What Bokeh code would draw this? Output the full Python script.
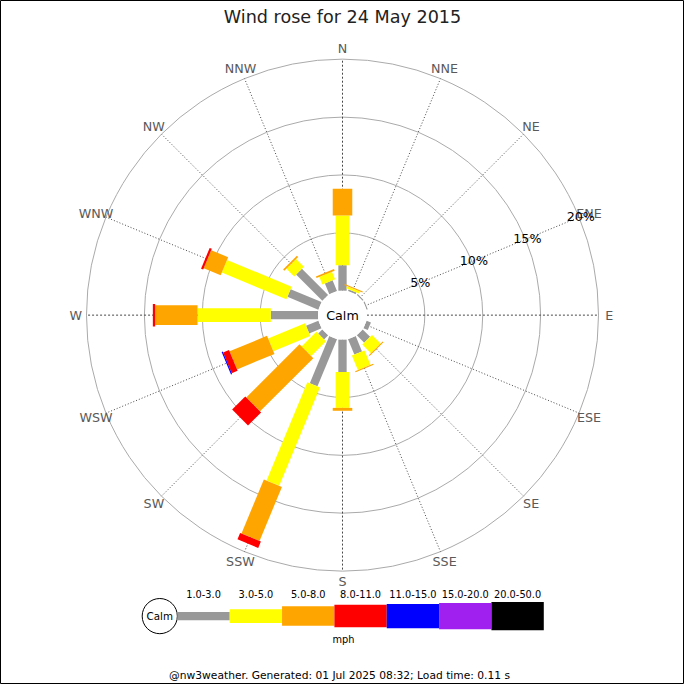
import numpy as np
from bokeh.plotting import figure
from bokeh.models import Range1d
from bokeh.embed import file_html
from bokeh.resources import INLINE
from bokeh.core.properties import value

# ---------------- data ----------------
directions = ["N", "NNE", "NE", "ENE", "E", "ESE", "SE", "SSE",
              "S", "SSW", "SW", "WSW", "W", "WNW", "NW", "NNW"]
speed_bins = ["1.0-3.0", "3.0-5.0", "5.0-8.0", "8.0-11.0",
              "11.0-15.0", "15.0-20.0", "20.0-50.0"]
bin_colors = ["#999999", "#ffff00", "#ffa500", "#ff0000",
              "#0000ff", "#a020f0", "#000000"]

# percent of time per direction for each speed bin (mph)
pct_1_3 = [2.2, 0.15, 0.1, 0.1, 0.0, 0.4, 0.9, 1.43, 2.8, 4.4, 0.5, 1.15, 4.08, 2.89, 3.2, 1.0]
pct_3_5 = [4.3, 0.2, 0.0, 0.0, 0.0, 0.0, 1.05, 1.35, 3.1, 9.2, 1.8, 3.45, 6.33, 6.04, 0.95, 0.7]
pct_5_8 = [2.3, 0.1, 0.0, 0.0, 0.0, 0.0, 0.1, 0.1, 0.25, 5.05, 6.5, 3.5, 3.66, 1.58, 0.15, 0.15]
pct_8_11 = [0.0, 0.0, 0.0, 0.0, 0.0, 0.0, 0.0, 0.0, 0.0, 0.6, 1.6, 0.55, 0.2, 0.2, 0.0, 0.0]
pct_11_15 = [0.0, 0.0, 0.0, 0.0, 0.0, 0.0, 0.0, 0.0, 0.0, 0.0, 0.0, 0.1, 0.0, 0.0, 0.0, 0.0]
pct_15_20 = [0.0] * 16
pct_20_50 = [0.0] * 16

ring_pcts = [5, 10, 15, 20]
ring_labels = ["5%", "10%", "15%", "20%"]

title_text = "Wind rose for 24 May 2015"
calm_text = "Calm"
units_text = "mph"
footer_text = "@nw3weather. Generated: 01 Jul 2025 08:32; Load time: 0.11 s"

# ---------------- styling / geometry ----------------
W = H = 684
S = W / 700.0          # reference px -> screen px
FONT = value("DejaVu Sans")

CX, CY = 350.0, 378.0  # rose centre (data units, y up)
R0 = 25.0              # calm circle radius
K = 11.85              # data units per percent
R_MAX_PCT = 20
thick = [8.5, 14, 20, 23, 25, 27, 29]


def rad(p):
    return R0 + K * np.asarray(p, dtype=float)


p = figure(width=W, height=H, output_backend="svg", toolbar_location=None,
           x_range=Range1d(0, 700), y_range=Range1d(0, 700),
           x_axis_location=None, y_axis_location=None, min_border=0)
p.grid.visible = False
p.outline_line_color = "black"
p.outline_line_width = 1
p.background_fill_color = "white"
p.border_fill_color = "white"

theta = np.deg2rad(np.arange(16) * 22.5)
sx, cy_ = np.sin(theta), np.cos(theta)

# rings
p.circle(x=[CX] * len(ring_pcts), y=[CY] * len(ring_pcts), radius=list(rad(ring_pcts)),
         fill_color=None, line_color="#aaaaaa", line_width=1)

# spokes
r_out = rad(R_MAX_PCT)
main = [i for i in range(16) if i % 4 == 0]
minor = [i for i in range(16) if i % 4 != 0]
for idx, dash in ((main, "2 2"), (minor, "1 2")):
    p.segment(x0=list(CX + R0 * sx[idx]), y0=list(CY + R0 * cy_[idx]),
              x1=list(CX + r_out * sx[idx]), y1=list(CY + r_out * cy_[idx]),
              line_color="#333333", line_width=0.9, line_dash=dash)

# bars
series = [pct_1_3, pct_3_5, pct_5_8, pct_8_11, pct_11_15, pct_15_20, pct_20_50]
cum = np.zeros(16)
for b, vals in enumerate(series):
    v = np.asarray(vals, dtype=float)
    m = v > 0
    r_in = rad(cum)
    r_o = rad(cum + v)
    rc = (r_in + r_o) / 2
    if m.any():
        p.rect(x=list((CX + rc * sx)[m]), y=list((CY + rc * cy_)[m]),
               width=list((r_o - r_in)[m]), height=thick[b],
               angle=list((np.pi / 2 - theta)[m]),
               fill_color=bin_colors[b], line_color=None)
    cum = cum + v

# calm circle
p.circle(x=[CX], y=[CY], radius=R0, fill_color="white", line_color=None)
p.text(x=[CX], y=[CY], text=[calm_text], text_font=FONT, text_font_size=f"{13*S:.1f}px",
       text_align="center", text_baseline="middle", text_color="black")

# direction labels
r_lab = 273.0
p.text(x=list(CX + r_lab * sx), y=list(CY + r_lab * cy_), text=directions,
       text_font=FONT, text_font_size=f"{13*S:.1f}px", text_color="#5a5a5a",
       text_align="center", text_baseline="middle")

# percent labels along ENE spoke
ang = np.deg2rad(67.5)
rr = rad(ring_pcts) + 2
p.text(x=list(CX + rr * np.sin(ang)), y=list(CY + rr * np.cos(ang)), text=ring_labels,
       text_font=FONT, text_font_size=f"{13*S:.1f}px", text_color="black",
       text_align="center", text_baseline="middle")

# title
p.text(x=[350], y=[683], text=[title_text], text_font=FONT, text_font_size=f"{18*S:.1f}px",
       text_color="#222222", text_align="center", text_baseline="middle")

# legend
LX0, LX1, LY = 181.0, 556.0, 70.0
seg = (LX1 - LX0) / len(speed_bins)
p.circle(x=[163], y=[LY], radius=18, fill_color="white", line_color="black", line_width=1)
p.text(x=[163], y=[LY], text=[calm_text], text_font=FONT, text_font_size=f"{10.5*S:.1f}px",
       text_color="black", text_align="center", text_baseline="middle")
lx = LX0 + seg * (np.arange(len(speed_bins)) + 0.5)
p.rect(x=list(lx), y=[LY] * len(speed_bins), width=seg, height=thick,
       fill_color=bin_colors, line_color=None)
p.text(x=list(lx), y=[93] * len(speed_bins), text=speed_bins, text_font=FONT,
       text_font_size=f"{10*S:.1f}px", text_color="black",
       text_align="center", text_baseline="middle")
p.text(x=[351], y=[46], text=[units_text], text_font=FONT, text_font_size=f"{10*S:.1f}px",
       text_color="black", text_align="center", text_baseline="middle")

# footer
p.text(x=[347], y=[9], text=[footer_text], text_font=FONT, text_font_size=f"{11*S:.1f}px",
       text_color="black", text_align="center", text_baseline="middle")

open("out.html", "w").write(file_html(p, INLINE))
